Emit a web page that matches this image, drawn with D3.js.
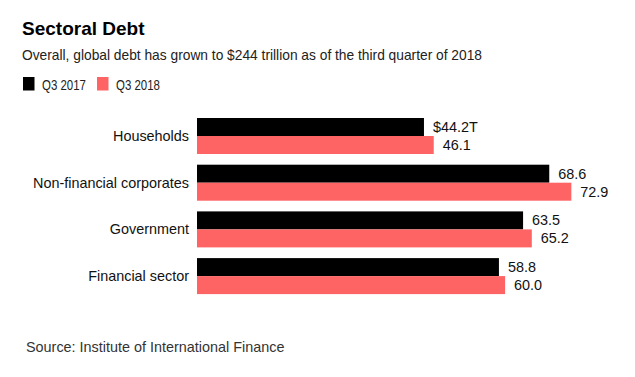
<!DOCTYPE html>
<html>
<head>
<meta charset="utf-8">
<script src="https://cdn.jsdelivr.net/npm/d3@7"></script>
<style>
  body { margin: 0; background: #fff; }
  svg text { font-family: "Liberation Sans", Arial, sans-serif; }
</style>
</head>
<body>
<svg id="chart" width="635" height="377"></svg>
<script>
// chart data
var sectors = ["Households", "Non-financial corporates", "Government", "Financial sector"];
var seriesNames = ["Q3 2017", "Q3 2018"];
var q3_2017 = [44.2, 68.6, 63.5, 58.8];
var q3_2018 = [46.1, 72.9, 65.2, 60.0];
var valueLabels2017 = ["$44.2T", "68.6", "63.5", "58.8"];
var valueLabels2018 = ["46.1", "72.9", "65.2", "60.0"];
var colors = ["#000000", "#fe6464"];

var svg = d3.select("#chart");

var x0 = 197;
var x = d3.scaleLinear().domain([0, 80]).range([x0, x0 + 80 * 5.135]);

var step = 46.7, barGroup = 36;
var y = d3.scaleBand()
    .domain(sectors)
    .range([118, 118 + 3 * step + barGroup])
    .paddingInner(1 - barGroup / step)
    .paddingOuter(0);

var ySub = d3.scaleBand()
    .domain(seriesNames)
    .range([0, y.bandwidth()]);

// title block
svg.append("text")
    .attr("x", 22).attr("y", 35)
    .attr("font-size", 19).attr("font-weight", "bold")
    .attr("fill", "#000")
    .text("Sectoral Debt");

svg.append("text")
    .attr("x", 22).attr("y", 60)
    .attr("font-size", 15)
    .attr("textLength", 460)
    .attr("lengthAdjust", "spacingAndGlyphs")
    .attr("fill", "#222")
    .text("Overall, global debt has grown to $244 trillion as of the third quarter of 2018");

// legend
var legendX = [23, 97];
seriesNames.forEach(function(s, i) {
    svg.append("rect")
        .attr("x", legendX[i]).attr("y", 77)
        .attr("width", 11.5).attr("height", 13.5)
        .attr("fill", colors[i]);
    svg.append("text")
        .attr("x", legendX[i] + 19).attr("y", 89.5)
        .attr("font-size", 14.5)
        .attr("textLength", 44)
        .attr("lengthAdjust", "spacingAndGlyphs")
        .attr("fill", "#222")
        .text(s);
});

var series = [q3_2017, q3_2018];
var labels = [valueLabels2017, valueLabels2018];

var groups = svg.selectAll(".grp")
    .data(sectors)
    .enter().append("g")
    .attr("class", "grp")
    .attr("transform", function(d) { return "translate(0," + y(d) + ")"; });

seriesNames.forEach(function(s, si) {
    groups.append("rect")
        .attr("x", x(0))
        .attr("y", ySub(s))
        .attr("width", function(d, i) { return x(series[si][i]) - x(0); })
        .attr("height", ySub.bandwidth())
        .attr("fill", colors[si]);

    groups.append("text")
        .attr("x", function(d, i) { return x(series[si][i]) + 9; })
        .attr("y", ySub(s) + ySub.bandwidth() / 2)
        .attr("dy", "0.35em")
        .attr("font-size", 14.4)
        .attr("fill", "#111")
        .text(function(d, i) { return labels[si][i]; });
});

// category labels
groups.append("text")
    .attr("x", 189)
    .attr("y", y.bandwidth() / 2)
    .attr("dy", "0.35em")
    .attr("text-anchor", "end")
    .attr("font-size", 14.4)
    .attr("fill", "#111")
    .text(function(d) { return d; });

// source
svg.append("text")
    .attr("x", 26).attr("y", 352)
    .attr("font-size", 14.4)
    .attr("fill", "#333")
    .text("Source: Institute of International Finance");
</script>
</body>
</html>
